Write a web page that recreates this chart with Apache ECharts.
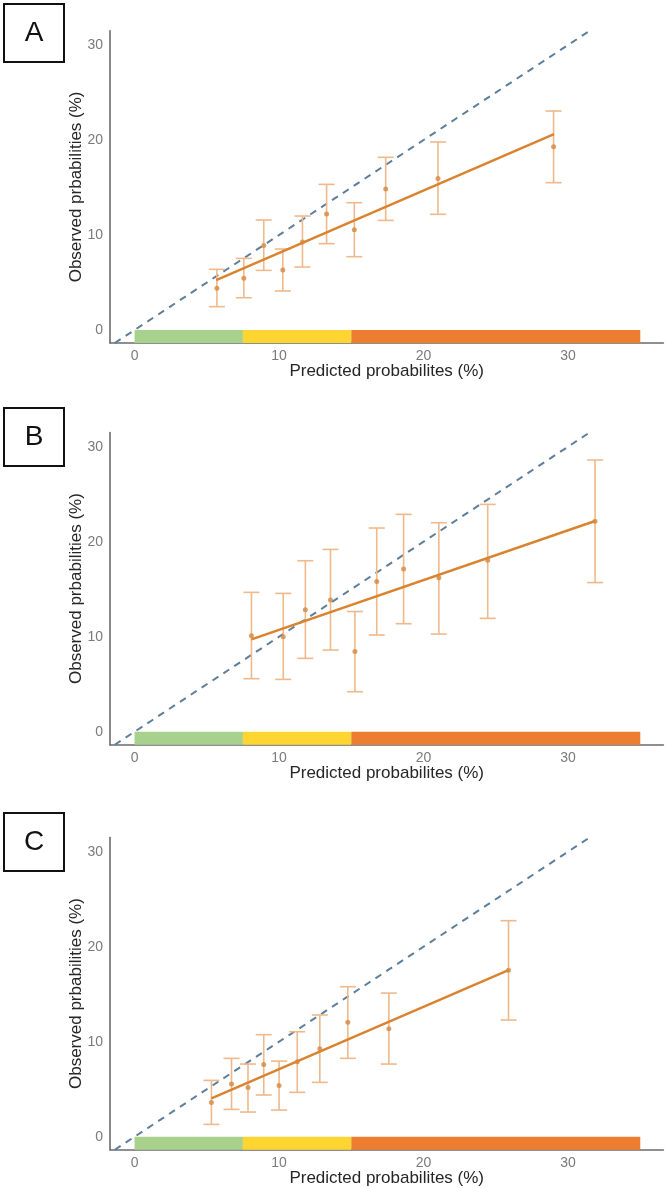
<!DOCTYPE html>
<html>
<head>
<meta charset="utf-8">
<script src="https://cdn.jsdelivr.net/npm/echarts@6/dist/echarts.min.js"></script>
<style>
html,body{margin:0;padding:0;background:#fff;}
#chart{width:665px;height:1188px;}
</style>
</head>
<body>
<div id="chart"></div>
<script>
// ---- data ----
const panelLetters = ['A', 'B', 'C'];
const tickValues = [0, 10, 20, 30];
const xTitle = 'Predicted probabilites (%)';
const yTitle = 'Observed prbabilities (%)';

// risk bands on the x axis: [start, end]
const bandRanges = [[0, 7.5], [7.5, 15], [15, 35]];
const bandColors = ['#A9D18E', '#FFD531', '#ED7D31'];

// ideal calibration line endpoints
const diagonal = [[-1.37, -1.37], [31.6, 31.6]];

// Panel A
const A_pred = [5.7, 7.56, 8.94, 10.26, 11.62, 13.29, 15.21, 17.38, 21.0, 29.0];
const A_obs  = [4.39, 5.44, 8.91, 6.32, 9.26, 12.21, 10.56, 14.84, 15.96, 19.30];
const A_lo   = [2.46, 3.40, 6.28, 4.11, 6.63, 9.09, 7.72, 11.54, 12.18, 15.51];
const A_hi   = [6.39, 7.54, 11.58, 8.53, 12.0, 15.33, 13.40, 18.18, 19.79, 23.05];
const A_fit  = [[5.65, 5.26], [29.03, 20.63]];

// Panel B
const B_pred = [8.09, 10.29, 11.82, 13.56, 15.25, 16.76, 18.62, 21.06, 24.44, 31.87];
const B_obs  = [10.1, 10.0, 12.84, 13.86, 8.44, 15.82, 17.12, 16.21, 18.04, 22.16];
const B_lo   = [5.58, 5.51, 7.72, 8.60, 4.21, 10.18, 11.37, 10.28, 11.93, 15.7];
const B_hi   = [14.67, 14.56, 18.0, 19.19, 12.65, 21.44, 22.88, 22.0, 23.93, 28.6];
const B_fit  = [[8.09, 9.72], [31.87, 22.18]];

// Panel C
const C_pred = [5.32, 6.71, 7.85, 8.94, 10.0, 11.26, 12.82, 14.76, 17.6, 25.88];
const C_obs  = [3.61, 5.54, 5.19, 7.61, 5.40, 7.89, 9.26, 12.04, 11.37, 17.51];
const C_lo   = [1.30, 2.88, 2.60, 4.39, 2.81, 4.67, 5.72, 8.25, 7.65, 12.28];
const C_hi   = [5.93, 8.25, 7.65, 10.74, 7.96, 11.05, 12.81, 15.79, 15.12, 22.74];
const C_fit  = [[5.32, 4.04], [25.88, 17.54]];

// ---- layout / style ----
const X_MIN = -1.7, X_MAX = 36.6, Y_MIN = -1.37, Y_MAX = 31.5;
const gridTops = [30.75, 432.45, 837.45];
const GRID_LEFT = 110, GRID_W = 553.4, GRID_H = 312.3;
const boxTops = [3, 407, 812];

const panels = [
  {pred: A_pred, obs: A_obs, lo: A_lo, hi: A_hi, fit: A_fit},
  {pred: B_pred, obs: B_obs, lo: B_lo, hi: B_hi, fit: B_fit},
  {pred: C_pred, obs: C_obs, lo: C_lo, hi: C_hi, fit: C_fit}
];

const FONT = '"Liberation Sans", Arial, sans-serif';
const grids = [], xAxes = [], yAxes = [], series = [], graphics = [];

panels.forEach((p, i) => {
  grids.push({left: GRID_LEFT, top: gridTops[i], width: GRID_W, height: GRID_H, containLabel: false});
  xAxes.push({
    gridIndex: i, type: 'value', min: X_MIN, max: X_MAX,
    axisLine: {show: true, onZero: false, lineStyle: {color: '#6b6b6b', width: 1.6}},
    axisTick: {show: false},
    splitLine: {show: false},
    axisLabel: {customValues: tickValues, color: '#7a7a7a', fontSize: 14, margin: 6, fontFamily: FONT},
    name: xTitle, nameLocation: 'middle', nameGap: 20, nameMoveOverlap: false,
    nameTextStyle: {color: '#262626', fontSize: 17, fontFamily: FONT}
  });
  yAxes.push({
    gridIndex: i, type: 'value', min: Y_MIN, max: Y_MAX,
    axisLine: {show: true, onZero: false, lineStyle: {color: '#6b6b6b', width: 1.6}},
    axisTick: {show: false},
    splitLine: {show: false},
    axisLabel: {customValues: tickValues, color: '#7a7a7a', fontSize: 14, margin: 7, fontFamily: FONT},
    name: yTitle, nameLocation: 'middle', nameGap: 25, nameMoveOverlap: false,
    nameTextStyle: {color: '#262626', fontSize: 17, fontFamily: FONT}
  });

  // risk bands
  series.push({
    type: 'custom', xAxisIndex: i, yAxisIndex: i, silent: true, z: 1,
    data: bandRanges.map((r, k) => [r[0], r[1], k]),
    renderItem: function (params, api) {
      const a = api.coord([api.value(0), 0]);
      const b = api.coord([api.value(1), Y_MIN]);
      return {type: 'rect', shape: {x: a[0], y: a[1], width: b[0] - a[0], height: b[1] - a[1]},
              style: {fill: bandColors[api.value(2)]}};
    }
  });
  // diagonal
  series.push({
    type: 'line', xAxisIndex: i, yAxisIndex: i, data: diagonal, symbol: 'none', silent: true, z: 2,
    lineStyle: {color: '#5E7F9B', width: 2, type: [7, 6]}
  });
  // error bars
  series.push({
    type: 'custom', xAxisIndex: i, yAxisIndex: i, silent: true, z: 3,
    data: p.pred.map((x, k) => [x, p.lo[k], p.hi[k]]),
    renderItem: function (params, api) {
      const top = api.coord([api.value(0), api.value(2)]);
      const bot = api.coord([api.value(0), api.value(1)]);
      const hw = 8;
      const st = {stroke: '#EFB98B', lineWidth: 1.6};
      return {type: 'group', children: [
        {type: 'line', shape: {x1: top[0], y1: top[1], x2: bot[0], y2: bot[1]}, style: st},
        {type: 'line', shape: {x1: top[0] - hw, y1: top[1], x2: top[0] + hw, y2: top[1]}, style: st},
        {type: 'line', shape: {x1: bot[0] - hw, y1: bot[1], x2: bot[0] + hw, y2: bot[1]}, style: st}
      ]};
    }
  });
  // fit line
  series.push({
    type: 'line', xAxisIndex: i, yAxisIndex: i, data: p.fit, symbol: 'none', silent: true, z: 4,
    lineStyle: {color: '#D9832E', width: 2.4}
  });
  // observed points
  series.push({
    type: 'scatter', xAxisIndex: i, yAxisIndex: i, silent: true, z: 5,
    data: p.pred.map((x, k) => [x, p.obs[k]]),
    symbol: 'circle', symbolSize: 5,
    itemStyle: {color: '#D4883F'}
  });

  // panel letter box
  graphics.push({
    type: 'group', left: 3, top: boxTops[i],
    children: [
      {type: 'rect', shape: {x: 0, y: 0, width: 60, height: 58},
       style: {fill: '#fff', stroke: '#111', lineWidth: 2}},
      {type: 'text', x: 30, y: 29,
       style: {text: panelLetters[i], fill: '#111', fontSize: 28, fontFamily: FONT,
               align: 'center', verticalAlign: 'middle'}}
    ]
  });
});

const chart = echarts.init(document.getElementById('chart'), null, {renderer: 'canvas'});
chart.setOption({
  animation: false,
  backgroundColor: '#ffffff',
  grid: grids, xAxis: xAxes, yAxis: yAxes, series: series, graphic: graphics
});
</script>
</body>
</html>
